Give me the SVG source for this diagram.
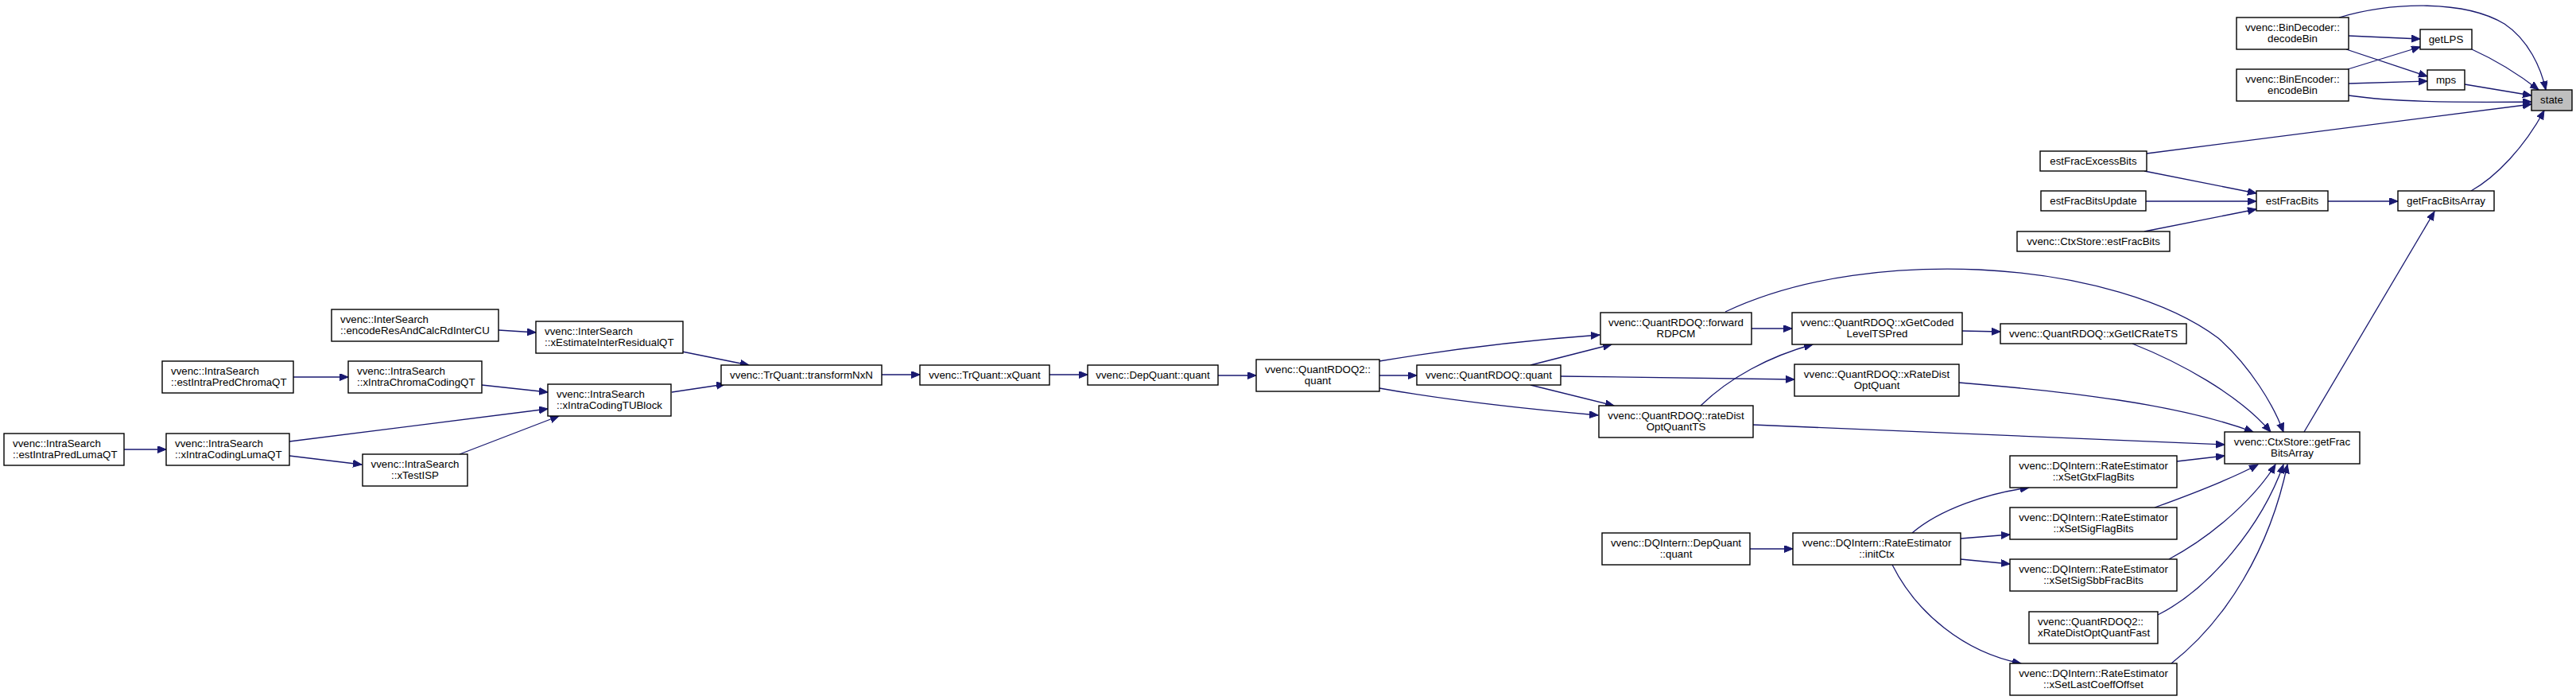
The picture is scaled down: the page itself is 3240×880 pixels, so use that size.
<svg xmlns="http://www.w3.org/2000/svg" width="3240" height="880" viewBox="0 0 3240 880">
<style>
.n rect{fill:#fff;stroke:#000;stroke-width:1.4}
.n.cur rect{fill:#bfbfbf}
.n text{font-family:"Liberation Sans",Arial,sans-serif;font-size:13.3px;fill:#000}
.c{text-anchor:middle}
.e path{fill:none;stroke:#191970;stroke-width:1.3;marker-end:url(#ah)}
</style>
<defs>
<marker id="ah" markerUnits="userSpaceOnUse" markerWidth="13" markerHeight="10" refX="11" refY="4.5" orient="auto" viewBox="0 0 13 10">
<path d="M0,0 L11,4.5 L0,9 z" fill="#191970" stroke="#191970" stroke-width="1"/>
</marker>
</defs>
<rect width="3240" height="880" fill="#fff"/>
<g id="edges" class="e">
<path d="M2954,45 L3044,49"/>
<path d="M2951,62 L3053,96"/>
<path d="M2942,22 C3010,2 3100,0 3150,30 C3180,50 3196,85 3202,113"/>
<path d="M2953,87 L3044,59"/>
<path d="M2954,105 L3053,102"/>
<path d="M2954,120 C3010,128 3080,129 3184,128"/>
<path d="M3109,62 C3140,76 3170,95 3193,113"/>
<path d="M3100,106 L3184,120"/>
<path d="M2700,193 L3184,131"/>
<path d="M2697,215 L2838,243"/>
<path d="M2699,253 L2838,253"/>
<path d="M2697,291 L2838,263"/>
<path d="M2928,253 L3016,253"/>
<path d="M3108,240 C3140,222 3175,185 3200,139"/>
<path d="M2898,543 L3062,266"/>
<path d="M2170,392 C2270,345 2390,335 2489,339 C2620,345 2730,380 2790,425 C2830,460 2860,510 2872,543"/>
<path d="M2203,413 L2254,413"/>
<path d="M2468,416 L2516,417"/>
<path d="M2682,432 C2740,455 2815,495 2856,543"/>
<path d="M2464,481 C2600,492 2740,508 2834,543"/>
<path d="M2205,534 L2798,559"/>
<path d="M2139,510 C2175,475 2225,448 2280,433"/>
<path d="M1925,459 L2027,433"/>
<path d="M1963,473 L2257,477"/>
<path d="M1925,484 L2030,510"/>
<path d="M1735,454 C1830,438 1930,427 2012,421"/>
<path d="M1735,472 L1782,472"/>
<path d="M1735,488 C1830,505 1930,515 2010,522"/>
<path d="M1532,472 L1580,472"/>
<path d="M1320,471 L1368,471"/>
<path d="M1109,471 L1157,471"/>
<path d="M858,442 L942,459"/>
<path d="M845,493 L912,483"/>
<path d="M627,415 L674,418"/>
<path d="M606,484 L689,493"/>
<path d="M364,555 L689,514"/>
<path d="M578,571 L703,523"/>
<path d="M369,474 L438,474"/>
<path d="M364,573 L455,584"/>
<path d="M156,565 L209,565"/>
<path d="M2738,580 L2798,573"/>
<path d="M2710,638 C2760,620 2810,600 2840,584"/>
<path d="M2728,703 C2790,670 2840,620 2862,584"/>
<path d="M2714,773 C2780,740 2845,660 2872,584"/>
<path d="M2731,834 C2800,780 2855,690 2877,584"/>
<path d="M2405,670 C2440,640 2500,620 2552,613"/>
<path d="M2466,677 L2528,672"/>
<path d="M2466,703 L2528,709"/>
<path d="M2380,710 C2410,770 2470,820 2542,834"/>
<path d="M2201,690 L2255,690"/>
</g>
<g id="state" class="n cur"><rect x="3184" y="113" width="51" height="26"/><text class="c" x="3209.5" y="130">state</text></g>
<g id="getLPS" class="n"><rect x="3044" y="37" width="65" height="25"/><text class="c" x="3076.5" y="54">getLPS</text></g>
<g id="mps" class="n"><rect x="3053" y="88" width="47" height="25"/><text class="c" x="3076.5" y="105">mps</text></g>
<g id="getFracBitsArray" class="n"><rect x="3016" y="240" width="121" height="25"/><text class="c" x="3076.5" y="257">getFracBitsArray</text></g>
<g id="BinDecoder_decodeBin" class="n"><rect x="2813" y="22" width="141" height="40"/><text class="c" x="2883.5" y="39">vvenc::BinDecoder::</text><text class="c" x="2883.5" y="53">decodeBin</text></g>
<g id="BinEncoder_encodeBin" class="n"><rect x="2813" y="87" width="141" height="40"/><text class="c" x="2883.5" y="104">vvenc::BinEncoder::</text><text class="c" x="2883.5" y="118">encodeBin</text></g>
<g id="estFracBits" class="n"><rect x="2838" y="240" width="90" height="25"/><text class="c" x="2883" y="257">estFracBits</text></g>
<g id="CtxStore_getFracBitsArray" class="n"><rect x="2798" y="543" width="170" height="40"/><text class="c" x="2883" y="560">vvenc::CtxStore::getFrac</text><text class="c" x="2883" y="574">BitsArray</text></g>
<g id="estFracExcessBits" class="n"><rect x="2566" y="190" width="134" height="25"/><text class="c" x="2633" y="207">estFracExcessBits</text></g>
<g id="estFracBitsUpdate" class="n"><rect x="2567" y="240" width="132" height="25"/><text class="c" x="2633" y="257">estFracBitsUpdate</text></g>
<g id="CtxStore_estFracBits" class="n"><rect x="2537" y="291" width="192" height="25"/><text class="c" x="2633" y="308">vvenc::CtxStore::estFracBits</text></g>
<g id="xGetICRateTS" class="n"><rect x="2516" y="407" width="234" height="25"/><text class="c" x="2633" y="424">vvenc::QuantRDOQ::xGetICRateTS</text></g>
<g id="xSetGtxFlagBits" class="n"><rect x="2528" y="573" width="210" height="40"/><text class="c" x="2633" y="590">vvenc::DQIntern::RateEstimator</text><text class="c" x="2633" y="604">::xSetGtxFlagBits</text></g>
<g id="xSetSigFlagBits" class="n"><rect x="2528" y="638" width="210" height="40"/><text class="c" x="2633" y="655">vvenc::DQIntern::RateEstimator</text><text class="c" x="2633" y="669">::xSetSigFlagBits</text></g>
<g id="xSetSigSbbFracBits" class="n"><rect x="2528" y="703" width="210" height="40"/><text class="c" x="2633" y="720">vvenc::DQIntern::RateEstimator</text><text class="c" x="2633" y="734">::xSetSigSbbFracBits</text></g>
<g id="xRateDistOptQuantFast" class="n"><rect x="2552" y="769" width="162" height="40"/><text x="2563" y="786">vvenc::QuantRDOQ2::</text><text x="2563" y="800">xRateDistOptQuantFast</text></g>
<g id="xSetLastCoeffOffset" class="n"><rect x="2528" y="834" width="210" height="40"/><text class="c" x="2633" y="851">vvenc::DQIntern::RateEstimator</text><text class="c" x="2633" y="865">::xSetLastCoeffOffset</text></g>
<g id="xGetCodedLevelTSPred" class="n"><rect x="2254" y="393" width="214" height="40"/><text class="c" x="2361" y="410">vvenc::QuantRDOQ::xGetCoded</text><text class="c" x="2361" y="424">LevelTSPred</text></g>
<g id="xRateDistOptQuant" class="n"><rect x="2257" y="458" width="207" height="40"/><text class="c" x="2360.5" y="475">vvenc::QuantRDOQ::xRateDist</text><text class="c" x="2360.5" y="489">OptQuant</text></g>
<g id="initCtx" class="n"><rect x="2255" y="670" width="211" height="40"/><text class="c" x="2360.5" y="687">vvenc::DQIntern::RateEstimator</text><text class="c" x="2360.5" y="701">::initCtx</text></g>
<g id="forwardRDPCM" class="n"><rect x="2013" y="393" width="190" height="40"/><text class="c" x="2108" y="410">vvenc::QuantRDOQ::forward</text><text class="c" x="2108" y="424">RDPCM</text></g>
<g id="rateDistOptQuantTS" class="n"><rect x="2011" y="510" width="194" height="40"/><text class="c" x="2108" y="527">vvenc::QuantRDOQ::rateDist</text><text class="c" x="2108" y="541">OptQuantTS</text></g>
<g id="DQIntern_DepQuant_quant" class="n"><rect x="2015" y="670" width="186" height="40"/><text class="c" x="2108" y="687">vvenc::DQIntern::DepQuant</text><text class="c" x="2108" y="701">::quant</text></g>
<g id="QuantRDOQ_quant" class="n"><rect x="1782" y="459" width="181" height="25"/><text class="c" x="1872.5" y="476">vvenc::QuantRDOQ::quant</text></g>
<g id="QuantRDOQ2_quant" class="n"><rect x="1580" y="452" width="155" height="40"/><text class="c" x="1657.5" y="469">vvenc::QuantRDOQ2::</text><text class="c" x="1657.5" y="483">quant</text></g>
<g id="DepQuant_quant" class="n"><rect x="1368" y="459" width="164" height="25"/><text class="c" x="1450" y="476">vvenc::DepQuant::quant</text></g>
<g id="TrQuant_xQuant" class="n"><rect x="1157" y="459" width="163" height="25"/><text class="c" x="1238.5" y="476">vvenc::TrQuant::xQuant</text></g>
<g id="TrQuant_transformNxN" class="n"><rect x="907" y="459" width="202" height="25"/><text class="c" x="1008" y="476">vvenc::TrQuant::transformNxN</text></g>
<g id="xEstimateInterResidualQT" class="n"><rect x="674" y="404" width="185" height="40"/><text x="685" y="421">vvenc::InterSearch</text><text x="685" y="435">::xEstimateInterResidualQT</text></g>
<g id="xIntraCodingTUBlock" class="n"><rect x="689" y="483" width="155" height="40"/><text x="700" y="500">vvenc::IntraSearch</text><text x="700" y="514">::xIntraCodingTUBlock</text></g>
<g id="encodeResAndCalcRdInterCU" class="n"><rect x="417" y="389" width="210" height="40"/><text x="428" y="406">vvenc::InterSearch</text><text x="428" y="420">::encodeResAndCalcRdInterCU</text></g>
<g id="xIntraChromaCodingQT" class="n"><rect x="438" y="454" width="168" height="40"/><text x="449" y="471">vvenc::IntraSearch</text><text x="449" y="485">::xIntraChromaCodingQT</text></g>
<g id="xTestISP" class="n"><rect x="456" y="571" width="132" height="40"/><text class="c" x="522" y="588">vvenc::IntraSearch</text><text class="c" x="522" y="602">::xTestISP</text></g>
<g id="estIntraPredChromaQT" class="n"><rect x="204" y="454" width="165" height="40"/><text x="215" y="471">vvenc::IntraSearch</text><text x="215" y="485">::estIntraPredChromaQT</text></g>
<g id="xIntraCodingLumaQT" class="n"><rect x="209" y="545" width="155" height="40"/><text x="220" y="562">vvenc::IntraSearch</text><text x="220" y="576">::xIntraCodingLumaQT</text></g>
<g id="estIntraPredLumaQT" class="n"><rect x="5" y="545" width="151" height="40"/><text x="16" y="562">vvenc::IntraSearch</text><text x="16" y="576">::estIntraPredLumaQT</text></g>
</svg>
